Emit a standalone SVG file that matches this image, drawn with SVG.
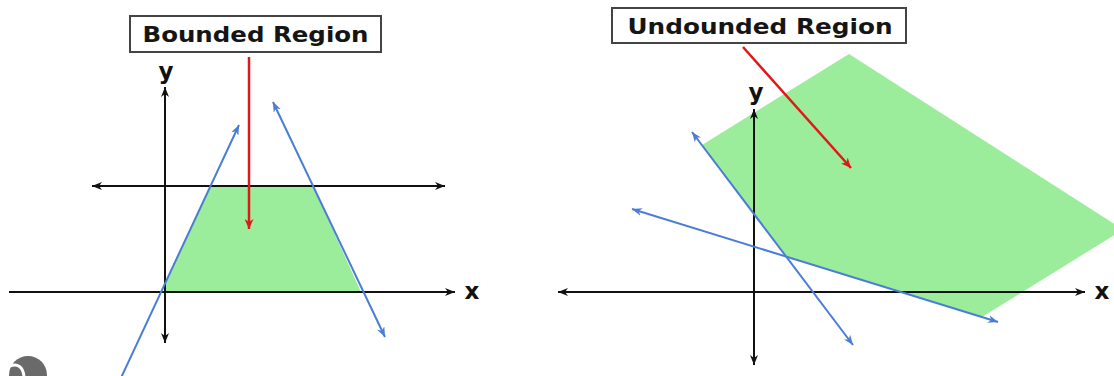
<svg xmlns="http://www.w3.org/2000/svg" width="1114" height="376" viewBox="0 0 1114 376">
  <style>
    .axis { stroke: #111; stroke-width: 2; fill: none; }
    .blue { stroke: #4a7dd6; stroke-width: 2; fill: none; }
    .red { stroke: #e01818; stroke-width: 2.5; fill: none; }
    .region { fill: #9bec9b; stroke: none; }
    .box { fill: #fff; stroke: #444; stroke-width: 2; }
    .title { font-family: "DejaVu Sans", "Liberation Sans", sans-serif; font-weight: bold; font-size: 22px; fill: #151515; }
    .lbl { font-family: "DejaVu Sans", "Liberation Sans", sans-serif; font-weight: bold; font-size: 23px; fill: #111; }
  </style>
  <defs>
    <marker id="ak" markerUnits="userSpaceOnUse" markerWidth="11" markerHeight="8" refX="10" refY="4" orient="auto-start-reverse">
      <path d="M0,0 L10,4 L0,8 L3,4 Z" fill="#111"/>
    </marker>
    <marker id="ab" markerUnits="userSpaceOnUse" markerWidth="11" markerHeight="8" refX="10" refY="4" orient="auto-start-reverse">
      <path d="M0,0 L10,4 L0,8 L3,4 Z" fill="#4a7dd6"/>
    </marker>
    <marker id="ar" markerUnits="userSpaceOnUse" markerWidth="11" markerHeight="9" refX="10" refY="4.5" orient="auto-start-reverse">
      <path d="M0,0 L10,4.5 L0,9 L3,4.5 Z" fill="#e01818"/>
    </marker>
  </defs>

  <!-- Left panel: bounded region -->
  <g id="bounded-region">
    <polygon class="region" points="210,186 313,186 361,292 165,292 165,284"/>
  </g>
  <g id="left-axes">
    <line class="axis" x1="9" y1="292" x2="455" y2="292" marker-end="url(#ak)"/>
    <line class="axis" x1="165" y1="87" x2="165" y2="343" marker-start="url(#ak)" marker-end="url(#ak)"/>
    <line class="axis" x1="92" y1="186" x2="445" y2="186" marker-start="url(#ak)" marker-end="url(#ak)"/>
    <text class="lbl" x="166" y="79" text-anchor="middle">y</text>
    <text class="lbl" x="472" y="299" text-anchor="middle">x</text>
  </g>
  <g id="left-connectors">
    <line class="blue" x1="120" y1="380" x2="239" y2="125" marker-end="url(#ab)"/>
    <line class="blue" x1="273" y1="102" x2="385" y2="337" marker-start="url(#ab)" marker-end="url(#ab)"/>
    <line class="red" x1="249" y1="57" x2="249" y2="229" marker-end="url(#ar)"/>
  </g>
  <g id="bounded-label">
    <rect class="box" x="130" y="16" width="251" height="36"/>
    <text class="title" x="255.5" y="41.5" text-anchor="middle" textLength="226" lengthAdjust="spacingAndGlyphs">Bounded Region</text>
  </g>

  <!-- Right panel: unbounded region -->
  <g id="unbounded-region">
    <polygon class="region" points="702,145 849,54 1116,225 1116,234 982,317 786,257"/>
  </g>
  <g id="right-axes">
    <line class="axis" x1="558" y1="292" x2="1085" y2="292" marker-start="url(#ak)" marker-end="url(#ak)"/>
    <line class="axis" x1="754" y1="109" x2="754" y2="365" marker-start="url(#ak)" marker-end="url(#ak)"/>
    <text class="lbl" x="756" y="100" text-anchor="middle">y</text>
    <text class="lbl" x="1102" y="299" text-anchor="middle">x</text>
  </g>
  <g id="right-connectors">
    <line class="blue" x1="692" y1="132" x2="853" y2="345" marker-start="url(#ab)" marker-end="url(#ab)"/>
    <line class="blue" x1="632" y1="209" x2="998" y2="322" marker-start="url(#ab)" marker-end="url(#ab)"/>
    <line class="red" x1="743" y1="47" x2="851" y2="168" marker-end="url(#ar)"/>
  </g>
  <g id="unbounded-label">
    <rect class="box" x="612" y="8" width="294" height="35"/>
    <text class="title" x="760" y="33.5" text-anchor="middle" textLength="265" lengthAdjust="spacingAndGlyphs">Undounded Region</text>
  </g>

  <!-- corner icon fragment -->
  <g id="corner-icon">
    <circle cx="28" cy="375" r="19" fill="#6a6a6a"/>
    <path d="M10,366 Q22,362 24,376" stroke="#fff" stroke-width="3" fill="none"/>
  </g>
</svg>
